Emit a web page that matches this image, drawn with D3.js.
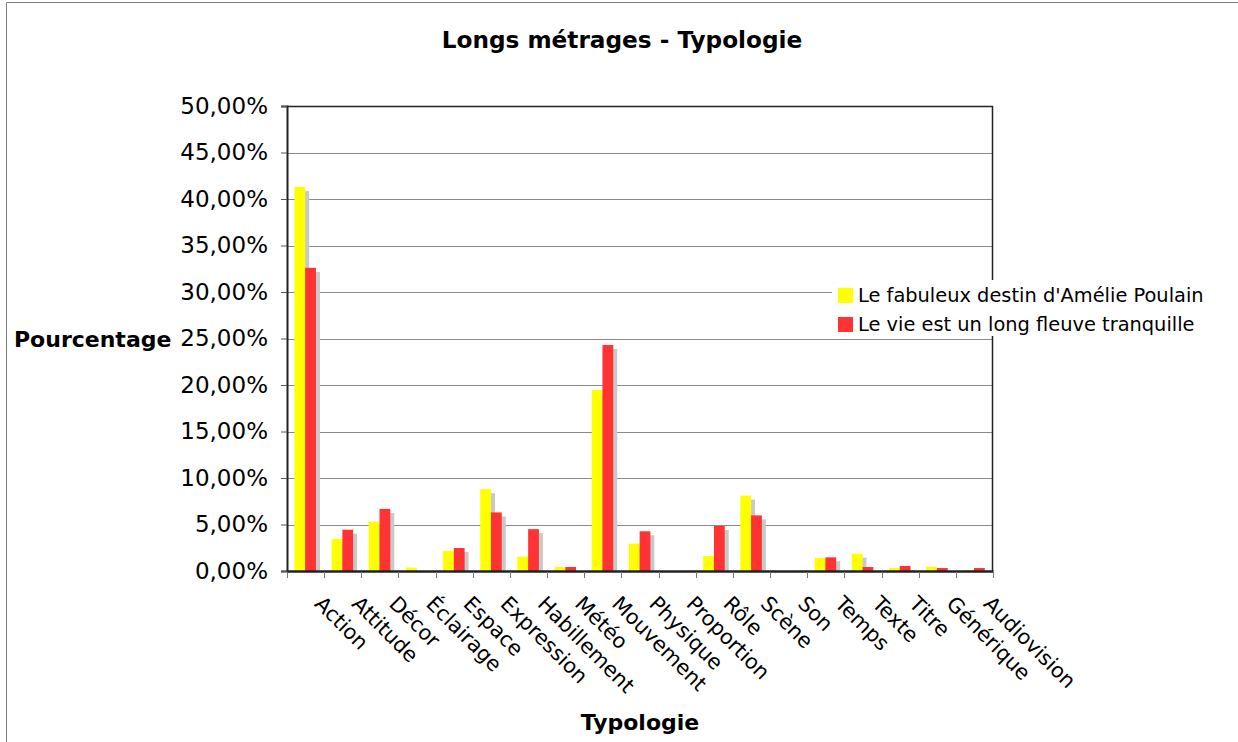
<!DOCTYPE html>
<html>
<head>
<meta charset="utf-8">
<script src="https://cdn.jsdelivr.net/npm/d3@7"></script>
<style>
  html, body { margin: 0; padding: 0; background: #fff; }
  svg { display: block; }
  text { font-family: "DejaVu Sans", Verdana, sans-serif; fill: #000; }
</style>
</head>
<body>
<svg id="chart" width="1238" height="742"></svg>
<script>
// Typology categories (x axis)
const categories = ["Action", "Attitude", "Décor", "Éclairage", "Espace", "Expression",
  "Habillement", "Météo", "Mouvement", "Physique", "Proportion", "Rôle", "Scène", "Son",
  "Temps", "Texte", "Titre", "Générique", "Audiovision"];

// Series names
const seriesNames = ["Le fabuleux destin d'Amélie Poulain", "Le vie est un long fleuve tranquille"];

// Percentages per category
const amelie = [41.3, 3.44, 5.3, 0.36, 2.15, 8.8, 1.54, 0.43, 19.46, 2.94, 0, 1.6, 8.1, 0, 1.4, 1.86, 0.32, 0.43, 0.1];
const fleuve = [32.6, 4.44, 6.67, 0, 2.47, 6.3, 4.5, 0.43, 24.3, 4.27, 0, 4.84, 5.98, 0, 1.47, 0.43, 0.54, 0.32, 0.32];

// Y axis ticks (percent)
const yTicks = [0, 5, 10, 15, 20, 25, 30, 35, 40, 45, 50];

const seriesColors = ["#ffff00", "#ff3333"];
const seriesValues = [amelie, fleuve];

const svg = d3.select("#chart");
const W = 1238, H = 742;
const plot = { left: 287, right: 993, top: 106, bottom: 571 };

// Outer frame (top and left edges)
svg.append("path")
  .attr("d", `M6.5,${H} V2.5 H${W}`)
  .attr("fill", "none").attr("stroke", "#808080").attr("stroke-width", 1);

const x = d3.scaleBand().domain(categories).range([plot.left, plot.right]).padding(0);
const bw = x.bandwidth();
const xs = d3.scaleBand().domain(seriesNames).range([bw * 0.2, bw * 0.78]).padding(0);
const y = d3.scaleLinear().domain([0, 50]).range([plot.bottom, plot.top]);

const fr = d3.formatLocale({ decimal: ",", thousands: " ", grouping: [3], currency: ["", " €"] });
const fmt = v => fr.format(".2f")(v) + "%";

// Gridlines
svg.append("g")
  .selectAll("line")
  .data(yTicks.filter(t => t > 0 && t < 50))
  .join("line")
  .attr("x1", plot.left).attr("x2", plot.right)
  .attr("y1", d => Math.round(y(d)) + 0.5).attr("y2", d => Math.round(y(d)) + 0.5)
  .attr("stroke", "#8a8a8a").attr("stroke-width", 1);

// Bars with drop shadow
const rows = [];
categories.forEach((c, i) => {
  seriesNames.forEach((s, j) => rows.push({ cat: c, series: s, value: seriesValues[j][i], color: seriesColors[j] }));
});
const shadowOff = 4;
const barsG = svg.append("g");
rows.forEach(r => {
  const bx = x(r.cat) + xs(r.series);
  const by = y(r.value);
  const h = y(0) - by;
  if (h - shadowOff > 0) {
    barsG.append("rect")
      .attr("x", bx + shadowOff).attr("y", by + shadowOff)
      .attr("width", xs.bandwidth()).attr("height", h - shadowOff)
      .attr("fill", "#c9c9c9");
  }
  barsG.append("rect")
    .attr("x", bx).attr("y", by)
    .attr("width", xs.bandwidth()).attr("height", h)
    .attr("fill", r.color);
});

// Plot frame: top and right
svg.append("path")
  .attr("d", `M${plot.left},${plot.top + 0.5} H${plot.right - 0.5} V${plot.bottom}`)
  .attr("fill", "none").attr("stroke", "#222").attr("stroke-width", 1.5);

// Y axis
const yAxis = svg.append("g").attr("transform", `translate(${plot.left},0)`)
  .call(d3.axisLeft(y).tickValues(yTicks).tickFormat(fmt).tickSize(6).tickPadding(13));
yAxis.select(".domain").attr("stroke", "#222").attr("stroke-width", 2);
yAxis.selectAll(".tick line").attr("stroke", "#555");
yAxis.selectAll(".tick text")
  .style("font-family", "'DejaVu Sans', Verdana, sans-serif")
  .style("font-size", "23px").attr("fill", "#000");

// X axis
const xAxis = svg.append("g").attr("transform", `translate(0,${plot.bottom})`)
  .call(d3.axisBottom(x).tickSize(0).tickFormat(""));
xAxis.select(".domain").attr("stroke", "#222").attr("stroke-width", 2.5);
xAxis.selectAll(".tick").remove();
// Ticks at category boundaries
svg.append("g").selectAll("line")
  .data(categories.concat(["__end"]))
  .join("line")
  .attr("x1", (d, i) => Math.round(plot.left + i * bw) + 0.5)
  .attr("x2", (d, i) => Math.round(plot.left + i * bw) + 0.5)
  .attr("y1", plot.bottom + 1).attr("y2", plot.bottom + 7)
  .attr("stroke", "#777").attr("stroke-width", 1);

// Rotated category labels
svg.append("g").selectAll("text")
  .data(categories)
  .join("text")
  .attr("transform", d => `translate(${x(d) + bw / 2 + 8},${plot.bottom + 34}) rotate(45)`)
  .attr("text-anchor", "start")
  .style("font-size", "20.8px")
  .text(d => d);

// Title and axis titles
svg.append("text")
  .attr("x", 622).attr("y", 48)
  .attr("text-anchor", "middle")
  .style("font-size", "23.2px").style("font-weight", "bold")
  .text("Longs métrages - Typologie");

svg.append("text")
  .attr("x", 14).attr("y", 347)
  .style("font-size", "22px").style("font-weight", "bold")
  .text("Pourcentage");

svg.append("text")
  .attr("x", 640).attr("y", 730)
  .attr("text-anchor", "middle")
  .style("font-size", "22px").style("font-weight", "bold")
  .text("Typologie");

// Legend
const legend = svg.append("g");
legend.append("rect")
  .attr("x", 832).attr("y", 280).attr("width", 380).attr("height", 56)
  .attr("fill", "#fff");
seriesNames.forEach((s, i) => {
  const ly = 288 + i * 29;
  legend.append("rect")
    .attr("x", 838).attr("y", ly).attr("width", 15).attr("height", 15)
    .attr("fill", seriesColors[i]);
  legend.append("text")
    .attr("x", 858).attr("y", ly + 14)
    .style("font-size", "19.4px")
    .text(s);
});
</script>
</body>
</html>
